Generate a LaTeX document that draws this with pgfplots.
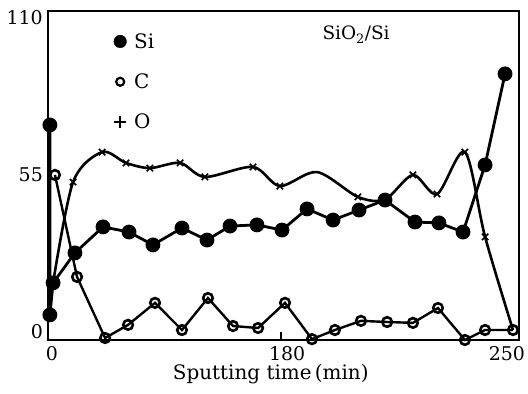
\documentclass[border=0pt]{standalone}
\usepackage{fontspec}
\setmainfont{DejaVu Serif}
\usepackage{pgfplots}
\pgfplotsset{compat=1.18}
\begin{document}
\begin{tikzpicture}
\begin{axis}[
  name=ax,
  scale only axis, width=471bp, height=329bp,
  xmin=0, xmax=250, ymin=-2.8, ymax=112.4,
  clip=false,
  axis line style={line width=1.6bp},
  /pgf/number format/assume math mode=true,
  tick label style={font=\fontsize{19}{23}\selectfont},
  xtick={2.1,126.9,243.6}, xticklabels={0,180,250},
  ytick={0,55,110}, yticklabels={0,55,110},
  major tick length=0pt,
  xtick pos=bottom, ytick pos=left,
  tick align=inside,
  extra x ticks={123.7}, extra x tick labels={},
  extra x tick style={major tick length=8bp, tick style={line width=1.3bp, black}},
  xticklabel style={inner sep=0pt, yshift=-6bp},
  yticklabel style={inner sep=0pt, xshift=-5bp},
  legend image code/.code={\path[draw=none,fill=none] (-7bp,-7bp) rectangle (13bp,7bp); \draw[#1] plot coordinates {(0bp,0bp)};},
  legend style={at={(axis cs:34.5,105)}, anchor=north west, draw=none, fill=none,
    font=\fontsize{20}{24}\selectfont, row sep=22bp, inner sep=0pt,
    nodes={inner sep=1bp}},
  legend cell align=left,
]
\addlegendimage{only marks, mark=*, mark size=6.3bp, black}
\addlegendimage{only marks, mark=o, mark size=4bp, black, mark options={line width=2.2bp}}
\addlegendimage{only marks, mark=+, mark size=6bp, black, mark options={line width=2.2bp}}
\legend{Si,C,O}

% O line
\addplot[black, line width=2.6bp, smooth, tension=0.5, forget plot] coordinates {
(2.7,17.2) (13.3,52.5) (28.7,63.0) (41.4,59.2) (54.1,57.4) (70.1,59.2)
(83.3,54.3) (108.8,57.8) (123.1,51.1) (142.8,56.0) (164.5,47.3) (178.9,46.4)
(193.7,55.0) (206.5,48.3) (221.3,63.0) (232.0,33.3) (246.8,0.7)};
\addplot[black, only marks, mark=x, mark size=4.5bp, mark options={line width=1.6bp}, forget plot] coordinates {
(13.3,52.5) (28.7,63.0) (41.4,59.2) (54.1,57.4) (70.1,59.2)
(83.3,54.3) (108.8,57.8) (123.1,51.1) (164.5,47.3)
(193.7,55.0) (206.5,48.3) (221.3,63.0) (232.0,33.3)};

% C
\addplot[black, line width=2.4bp, mark=o, mark size=4.8bp, mark options={line width=2.6bp, fill=white}, forget plot] coordinates {
(3.7,55.0) (15.4,19.3) (30.3,-2.1) (42.5,2.5) (56.8,10.2) (71.1,0.7)
(84.9,11.9) (98.2,2.1) (111.5,1.4) (125.8,10.2) (140.1,-2.5) (152.3,0.7)
(166.1,3.9) (180.0,3.5) (193.7,3.2) (207.0,8.4) (221.3,-2.8) (232.0,0.7) (246.8,0.7)};

% Si
\addplot[black, line width=2.8bp, mark=*, mark size=6bp, forget plot] coordinates {
(1.0,72.5) (1.0,6.0) (2.7,17.2) (14.3,27.7) (29.2,36.8) (43.0,35.0) (55.7,30.5)
(71.1,36.4) (84.4,32.2) (96.6,37.1) (110.9,37.5) (124.2,35.7) (137.5,43.1)
(151.3,39.2) (165.1,42.7) (178.9,46.2) (194.8,38.5) (207.5,38.2) (220.3,35.0)
(232.0,58.5) (242.6,90.4)};

\node[font=\fontsize{18.5}{22}\selectfont] at (axis cs:163.5,104.2) {SiO\textsubscript{2}/Si};
\node[anchor=base, inner sep=0pt, font=\fontsize{20}{24}\selectfont] at ([yshift=-39bp]rel axis cs:0.473,0) {Sputting time\,(min)};
\end{axis}
\path ([shift={(-48bp,-54bp)}]ax.south west) rectangle ([shift={(9bp,11bp)}]ax.north east);
\end{tikzpicture}
\end{document}
